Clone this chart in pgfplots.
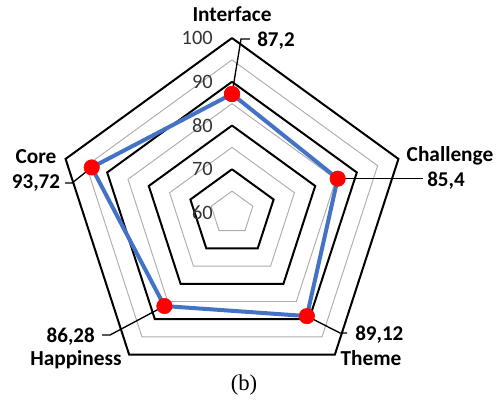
\documentclass[border=0pt]{standalone}
\usepackage{pgfplots}
\pgfplotsset{compat=1.18}
\usepackage{pgfplotstable}
\usepackage{fontspec}
\setmainfont{Carlito}
\newfontfamily\capfont{Liberation Serif}

\definecolor{exblue}{RGB}{68,114,196}

% angle of each spoke, score (scale starts at 60 in the centre)
\pgfplotstableread{
ang  v
90   87.2
18   85.4
-54  89.12
-126 86.28
162  93.72
90   87.2
}\scores

\tikzset{
  catlab/.style={font=\fontsize{16}{18}\selectfont\bfseries},
  vallab/.style={font=\fontsize{15.8}{18}\selectfont\bfseries, inner sep=0pt},
}

\begin{document}
\begin{tikzpicture}
\begin{axis}[
    x=3.28125pt, y=3.28125pt,
    xmin=-53.03, xmax=60.8,
    ymin=-43.2, ymax=48.69,
    hide axis,
    clip=false,
    font=\fontsize{15.3}{17}\selectfont,
]
\path[use as bounding box] (rel axis cs:0,0) rectangle (rel axis cs:1,1);
% rings: black every 10, grey in between
\foreach \r in {5,15,25,35} {
  \edef\tmp{\noexpand\addplot[data cs=polar, gray!65, line width=0.7pt] coordinates {(90,\r) (18,\r) (-54,\r) (-126,\r) (162,\r) (90,\r)};}
  \tmp
}
\foreach \r in {10,20,30,40} {
  \edef\tmp{\noexpand\addplot[data cs=polar, black, line width=1.5pt] coordinates {(90,\r) (18,\r) (-54,\r) (-126,\r) (162,\r) (90,\r)};}
  \tmp
}

% leader lines
\addplot[black, line width=1pt] coordinates {(0,27.2) (2.06,39.77) (4.11,39.77)};
\addplot[black, line width=1pt] coordinates {(24.16,7.85) (43.66,7.85)};
\addplot[black, line width=1pt] coordinates {(17.12,-23.56) (24.69,-27.43) (26.29,-27.43)};
\addplot[black, line width=1pt] coordinates {(-15.45,-21.26) (-27.89,-27.89) (-29.71,-27.89)};
\addplot[black, line width=1pt] coordinates {(-32.07,10.42) (-36.57,6.86) (-38.17,6.86)};

% series
\addplot[data cs=polar, exblue, line width=3pt, line join=round] table[x=ang, y expr=\thisrow{v}-60] {\scores};
\addplot[data cs=polar, only marks, mark=*, mark size=5.8pt, mark options={fill=red, draw=red}] table[x=ang, y expr=\thisrow{v}-60] {\scores};

% scale labels
\foreach \r/\lab in {0/60,10/70,20/80,30/90,40/100} {
  \edef\tmp{\noexpand\node[anchor=east, text=black!80, inner sep=0pt] at (axis cs:-4.34,\r) {\lab};}
  \tmp
}

% category labels
\node[catlab] at (axis cs:0,45.4) {Interface};
\node[catlab] at (axis cs:49.83,13.03) {Challenge};
\node[catlab] at (axis cs:31.77,-33.14) {Theme};
\node[catlab] at (axis cs:-35.66,-33.6) {Happiness};
\node[catlab] at (axis cs:-44.8,12.8) {Core};

% value labels
\node[vallab, anchor=west] at (axis cs:5.71,39.5) {87,2};
\node[vallab, anchor=west] at (axis cs:44.57,7.31) {85,4};
\node[vallab, anchor=west] at (axis cs:28.11,-27.89) {89,12};
\node[vallab, anchor=east] at (axis cs:-31.3,-28.34) {86,28};
\node[vallab] at (axis cs:-44.8,6.86) {93,72};

% caption
\node[font=\capfont\fontsize{17}{19}\selectfont] at (axis cs:2.74,-39.3) {(b)};
\end{axis}
\end{tikzpicture}
\end{document}
